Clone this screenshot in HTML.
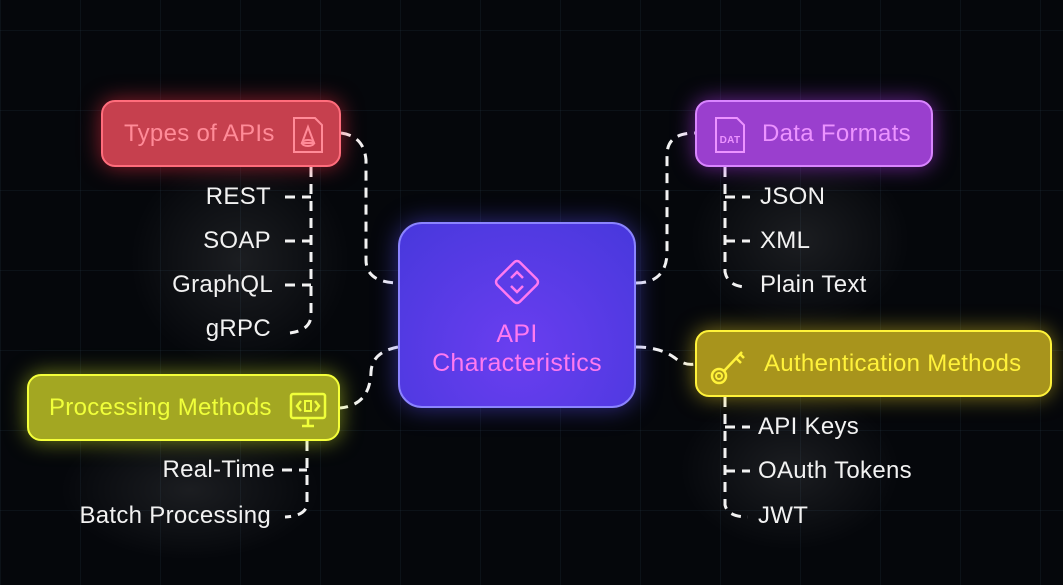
<!DOCTYPE html>
<html><head><meta charset="utf-8"><style>
html,body{margin:0;padding:0;background:#05070b;width:1063px;height:585px;overflow:hidden}
body{position:relative;font-family:"Liberation Sans",sans-serif;
background-image:linear-gradient(rgba(60,90,110,.13) 1px,transparent 1px),linear-gradient(90deg,rgba(60,90,110,.13) 1px,transparent 1px);
background-size:80px 80px;background-position:0 30px}
.box{position:absolute;box-sizing:border-box;border-radius:14px;display:flex;align-items:center;font-size:24px;letter-spacing:0.3px}
.t{position:absolute;color:#f2f2f2;font-size:24px;line-height:26px;letter-spacing:0.3px}
svg{position:absolute;left:0;top:0}
</style></head><body>
<svg width="1063" height="585">
<defs>
<radialGradient id="g1"><stop offset="0" stop-color="#fff" stop-opacity=".09"/><stop offset="1" stop-color="#fff" stop-opacity="0"/></radialGradient>
</defs>
<ellipse cx="240" cy="260" rx="110" ry="110" fill="url(#g1)"/>
<ellipse cx="800" cy="240" rx="110" ry="90" fill="url(#g1)"/>
<ellipse cx="790" cy="470" rx="110" ry="80" fill="url(#g1)"/>
<ellipse cx="190" cy="490" rx="130" ry="70" fill="url(#g1)"/>
<g fill="none" stroke="#f2f2f2" stroke-width="3" stroke-dasharray="10 7" stroke-linecap="butt">
<path d="M341 133 Q364 136 366 160 L366 260 Q366 283 400 283"/>
<path d="M311 167 L311 315 Q311 330 290 333"/>
<path d="M285 197 H311 M285 241 H311 M285 285 H311"/>
<path d="M636 283 Q665 283 667 255 L667 155 Q667 133 695 133"/>
<path d="M725 167 L725 272 Q728 287 748 287"/>
<path d="M725 197 H750 M725 241 H750"/>
<path d="M636 347 Q660 347 675 358 Q685 366 695 364"/>
<path d="M725 397 L725 505 Q728 517 748 517"/>
<path d="M725 427 H750 M725 471 H750"/>
<path d="M398 347 Q372 352 371 372 Q370 405 340 408"/>
<path d="M307 441 L307 505 Q305 516 285 517"/>
<path d="M282 470 H307"/>
</g>
</svg>
<div class="box" style="left:101px;top:100px;width:240px;height:67px;background:#c6404e;border:2px solid #ff6d7c;box-shadow:0 0 22px rgba(255,50,70,.55);color:#ff8b98;padding-left:21px">Types of APIs
<svg style="left:188px;top:14px" width="34" height="38" viewBox="0 0 34 38"><path d="M3 2H24L31 9V36H3Z" fill="none" stroke="#ff8b98" stroke-width="2"/><path d="M17 11 L11 27 H23 Z" fill="none" stroke="#ff8b98" stroke-width="2"/><ellipse cx="17" cy="27" rx="6" ry="3" fill="none" stroke="#ff8b98" stroke-width="2"/></svg></div>
<div class="box" style="left:398px;top:222px;width:238px;height:186px;border-radius:24px;background:radial-gradient(circle at 50% 70%,#6a3ef0,#4738dc);border:2px solid #8b84ff;box-shadow:0 0 24px rgba(90,80,255,.5);color:#ff7af0;flex-direction:column;justify-content:center;text-align:center;line-height:29px;font-size:25px">
<svg style="position:static;margin-bottom:8px" width="60" height="60" viewBox="0 0 60 60"><rect x="14" y="14" width="32" height="32" rx="4" transform="rotate(45 30 30)" fill="none" stroke="#ff7af0" stroke-width="2.5"/><path d="M24 26 L30 20 L36 26 M24 34 L30 40 L36 34" fill="none" stroke="#ff7af0" stroke-width="2.5"/></svg>
<div>API<br>Characteristics</div></div>
<div class="box" style="left:695px;top:100px;width:238px;height:67px;background:#9a3fce;border:2px solid #d985ff;box-shadow:0 0 22px rgba(190,60,255,.55);color:#ec93ff;padding-left:65px">Data Formats
<svg style="left:16px;top:14px" width="34" height="38" viewBox="0 0 34 38"><path d="M3 2H24L31 9V36H3Z" fill="none" stroke="#ec93ff" stroke-width="2"/><text x="17" y="27" font-size="10" font-weight="bold" text-anchor="middle" fill="#ec93ff" font-family="Liberation Sans">DAT</text></svg></div>
<div class="box" style="left:695px;top:330px;width:357px;height:67px;background:#a8941c;border:2px solid #fff23a;box-shadow:0 0 22px rgba(255,230,40,.5);color:#fff23a;padding-left:67px">Authentication Methods
<svg style="left:12px;top:14px" width="40" height="40" viewBox="0 0 40 40"><circle cx="10" cy="30" r="7" fill="none" stroke="#fff23a" stroke-width="2.5"/><circle cx="10" cy="30" r="3" fill="none" stroke="#fff23a" stroke-width="2"/><path d="M15 25 L33 6 M27 12 L32 17 M31 8 L35 12" fill="none" stroke="#fff23a" stroke-width="2.5"/></svg></div>
<div class="box" style="left:27px;top:374px;width:313px;height:67px;background:#a3a722;border:2px solid #f4ff3a;box-shadow:0 0 22px rgba(230,255,40,.5);color:#f0ff3a;padding-left:20px">Processing Methods
<svg style="left:260px;top:16px" width="38" height="36" viewBox="0 0 38 36"><rect x="2" y="2" width="34" height="24" rx="2" fill="none" stroke="#f0ff3a" stroke-width="2.5"/><path d="M12 9 L8 14 L12 19 M26 9 L30 14 L26 19 M13 34 H25 M19 26 V34" fill="none" stroke="#f0ff3a" stroke-width="2.5"/><rect x="16" y="9" width="6" height="10" fill="none" stroke="#f0ff3a" stroke-width="2"/></svg></div>
<div class="t" style="right:792px;top:184px">REST</div>
<div class="t" style="right:792px;top:228px">SOAP</div>
<div class="t" style="right:790px;top:272px">GraphQL</div>
<div class="t" style="right:792px;top:316px">gRPC</div>
<div class="t" style="left:760px;top:184px">JSON</div>
<div class="t" style="left:760px;top:228px">XML</div>
<div class="t" style="left:760px;top:272px">Plain Text</div>
<div class="t" style="left:758px;top:414px">API Keys</div>
<div class="t" style="left:758px;top:458px">OAuth Tokens</div>
<div class="t" style="left:758px;top:503px">JWT</div>
<div class="t" style="right:788px;top:457px">Real-Time</div>
<div class="t" style="right:792px;top:503px">Batch Processing</div>
</body></html>
